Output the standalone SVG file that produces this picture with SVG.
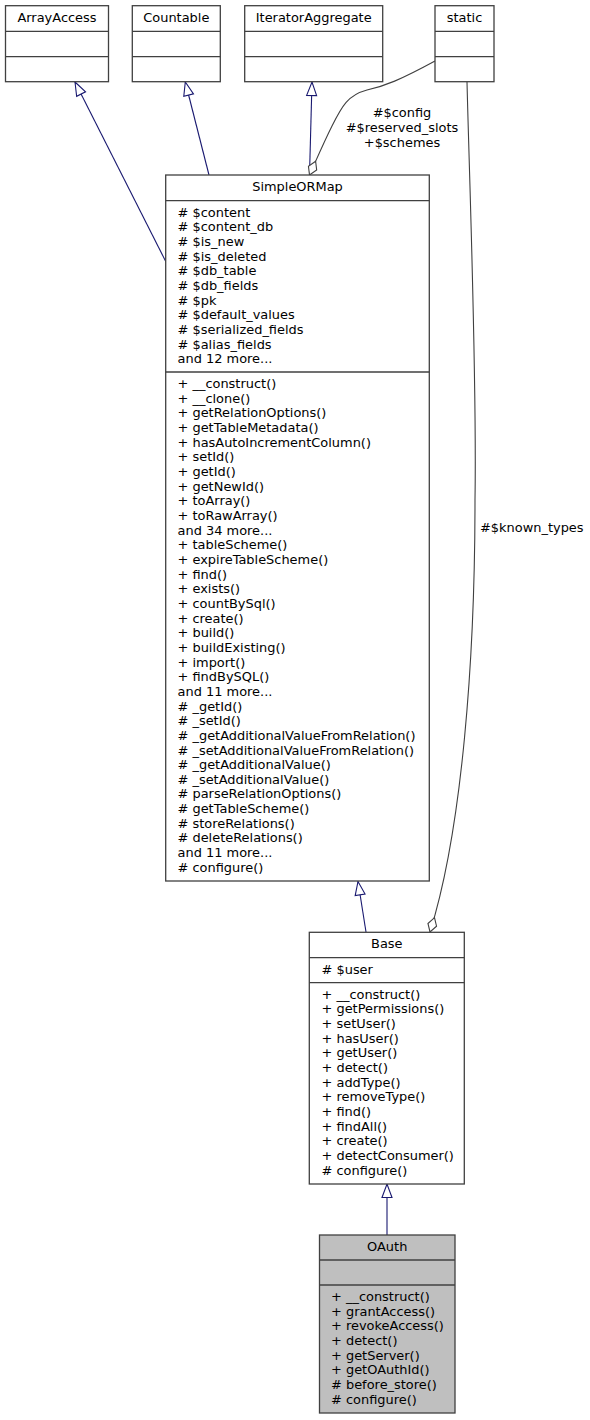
<svg xmlns="http://www.w3.org/2000/svg" width="590" height="1420" viewBox="0 0 590 1420">
<style>
text{font-family:"DejaVu Sans","Liberation Sans",sans-serif;font-size:12.95px;fill:#000}
.c{text-anchor:middle}
.box{fill:#fff;stroke:#404040;stroke-width:1.3}
.sep{stroke:#404040;stroke-width:1.3}
.cur{fill:#bfbfbf}
.inh{fill:none;stroke:#191970;stroke-width:1.1;marker-end:url(#tri)}
.agg{fill:none;stroke:#404040;stroke-width:1.1;marker-end:url(#dia)}
</style>
<defs>
<marker id="tri" markerUnits="userSpaceOnUse" markerWidth="16" markerHeight="12" refX="14" refY="5.5" orient="auto" overflow="visible"><path d="M0.5,0.5 L14,5.5 L0.5,10.5 z" fill="#fff" stroke="#191970" stroke-width="1.1"/></marker>
<marker id="dia" markerUnits="userSpaceOnUse" markerWidth="16" markerHeight="12" refX="15" refY="5" orient="auto" overflow="visible"><path d="M0,5 L7.5,0.5 L15,5 L7.5,9.5 z" fill="#fff" stroke="#404040" stroke-width="1.1"/></marker>
</defs>

<g id="connectors">
<path class="inh" d="M166,262 L75,82"/>
<path class="inh" d="M209,175 L185.3,82"/>
<path class="inh" d="M309.5,175 L312,82"/>
<path class="agg" d="M435,61 C400,80 385,86 367,90 C348,95 342,106 332,126 C324,142 318,156 309.5,175"/>
<text class="c" x="402" y="117.3">#$config</text>
<text class="c" x="402" y="132">#$reserved_slots</text>
<text class="c" x="402" y="146.7">+$schemes</text>
<path class="agg" d="M467,82 C470,200 477,380 475,500 C475,660 462,830 430,932"/>
<text x="480" y="531.5">#$known_types</text>
<path class="inh" d="M366,932 L358,881.5"/>
<path class="inh" d="M387,1235 L387,1184"/>
</g>

<g id="ArrayAccess">
<rect class="box" x="5.5" y="5.7" width="103" height="76"/>
<line class="sep" x1="5.5" y1="31.3" x2="108.5" y2="31.3"/>
<line class="sep" x1="5.5" y1="56.7" x2="108.5" y2="56.7"/>
<text class="c" x="57" y="21.7">ArrayAccess</text>
</g>

<g id="Countable">
<rect class="box" x="132.3" y="5.7" width="88" height="76"/>
<line class="sep" x1="132.3" y1="31.3" x2="220.3" y2="31.3"/>
<line class="sep" x1="132.3" y1="56.7" x2="220.3" y2="56.7"/>
<text class="c" x="176.3" y="21.7">Countable</text>
</g>

<g id="IteratorAggregate">
<rect class="box" x="244.7" y="5.7" width="138" height="76"/>
<line class="sep" x1="244.7" y1="31.3" x2="382.7" y2="31.3"/>
<line class="sep" x1="244.7" y1="56.7" x2="382.7" y2="56.7"/>
<text class="c" x="313.7" y="21.7">IteratorAggregate</text>
</g>

<g id="static">
<rect class="box" x="435" y="5.7" width="59" height="76"/>
<line class="sep" x1="435" y1="31.3" x2="494" y2="31.3"/>
<line class="sep" x1="435" y1="56.7" x2="494" y2="56.7"/>
<text class="c" x="464.5" y="21.7">static</text>
</g>

<g id="SimpleORMap">
<rect class="box" x="165.7" y="175" width="263.6" height="706"/>
<line class="sep" x1="165.7" y1="200.7" x2="429.3" y2="200.7"/>
<line class="sep" x1="165.7" y1="372" x2="429.3" y2="372"/>
<text class="c" x="297.5" y="191">SimpleORMap</text>
<text x="177.5" y="216.7"># $content</text>
<text x="177.5" y="231.36"># $content_db</text>
<text x="177.5" y="246.02"># $is_new</text>
<text x="177.5" y="260.68"># $is_deleted</text>
<text x="177.5" y="275.34"># $db_table</text>
<text x="177.5" y="290"># $db_fields</text>
<text x="177.5" y="304.66"># $pk</text>
<text x="177.5" y="319.32"># $default_values</text>
<text x="177.5" y="333.98"># $serialized_fields</text>
<text x="177.5" y="348.64"># $alias_fields</text>
<text x="177.5" y="363.3">and 12 more...</text>
<text x="177.5" y="388">+ __construct()</text>
<text x="177.5" y="402.66">+ __clone()</text>
<text x="177.5" y="417.32">+ getRelationOptions()</text>
<text x="177.5" y="431.98">+ getTableMetadata()</text>
<text x="177.5" y="446.64">+ hasAutoIncrementColumn()</text>
<text x="177.5" y="461.3">+ setId()</text>
<text x="177.5" y="475.96">+ getId()</text>
<text x="177.5" y="490.62">+ getNewId()</text>
<text x="177.5" y="505.28">+ toArray()</text>
<text x="177.5" y="519.94">+ toRawArray()</text>
<text x="177.5" y="534.6">and 34 more...</text>
<text x="177.5" y="549.26">+ tableScheme()</text>
<text x="177.5" y="563.92">+ expireTableScheme()</text>
<text x="177.5" y="578.58">+ find()</text>
<text x="177.5" y="593.24">+ exists()</text>
<text x="177.5" y="607.9">+ countBySql()</text>
<text x="177.5" y="622.56">+ create()</text>
<text x="177.5" y="637.22">+ build()</text>
<text x="177.5" y="651.88">+ buildExisting()</text>
<text x="177.5" y="666.54">+ import()</text>
<text x="177.5" y="681.2">+ findBySQL()</text>
<text x="177.5" y="695.86">and 11 more...</text>
<text x="177.5" y="710.52"># _getId()</text>
<text x="177.5" y="725.18"># _setId()</text>
<text x="177.5" y="739.84"># _getAdditionalValueFromRelation()</text>
<text x="177.5" y="754.5"># _setAdditionalValueFromRelation()</text>
<text x="177.5" y="769.16"># _getAdditionalValue()</text>
<text x="177.5" y="783.82"># _setAdditionalValue()</text>
<text x="177.5" y="798.48"># parseRelationOptions()</text>
<text x="177.5" y="813.14"># getTableScheme()</text>
<text x="177.5" y="827.8"># storeRelations()</text>
<text x="177.5" y="842.46"># deleteRelations()</text>
<text x="177.5" y="857.12">and 11 more...</text>
<text x="177.5" y="871.78"># configure()</text>
</g>

<g id="Base">
<rect class="box" x="309.3" y="932.3" width="155" height="251.7"/>
<line class="sep" x1="309.3" y1="957.7" x2="464.3" y2="957.7"/>
<line class="sep" x1="309.3" y1="982.7" x2="464.3" y2="982.7"/>
<text class="c" x="386.8" y="948.3">Base</text>
<text x="321.5" y="973.7"># $user</text>
<text x="321.5" y="998.7">+ __construct()</text>
<text x="321.5" y="1013.36">+ getPermissions()</text>
<text x="321.5" y="1028.02">+ setUser()</text>
<text x="321.5" y="1042.68">+ hasUser()</text>
<text x="321.5" y="1057.34">+ getUser()</text>
<text x="321.5" y="1072">+ detect()</text>
<text x="321.5" y="1086.66">+ addType()</text>
<text x="321.5" y="1101.32">+ removeType()</text>
<text x="321.5" y="1115.98">+ find()</text>
<text x="321.5" y="1130.64">+ findAll()</text>
<text x="321.5" y="1145.3">+ create()</text>
<text x="321.5" y="1159.96">+ detectConsumer()</text>
<text x="321.5" y="1174.62"># configure()</text>
</g>

<g id="OAuth">
<rect class="box cur" x="319.5" y="1235" width="135.5" height="178"/>
<line class="sep" x1="319.5" y1="1260" x2="455" y2="1260"/>
<line class="sep" x1="319.5" y1="1285" x2="455" y2="1285"/>
<text class="c" x="387.2" y="1251">OAuth</text>
<text x="331" y="1301">+ __construct()</text>
<text x="331" y="1315.66">+ grantAccess()</text>
<text x="331" y="1330.32">+ revokeAccess()</text>
<text x="331" y="1344.98">+ detect()</text>
<text x="331" y="1359.64">+ getServer()</text>
<text x="331" y="1374.3">+ getOAuthId()</text>
<text x="331" y="1388.96"># before_store()</text>
<text x="331" y="1403.62"># configure()</text>
</g>
</svg>
